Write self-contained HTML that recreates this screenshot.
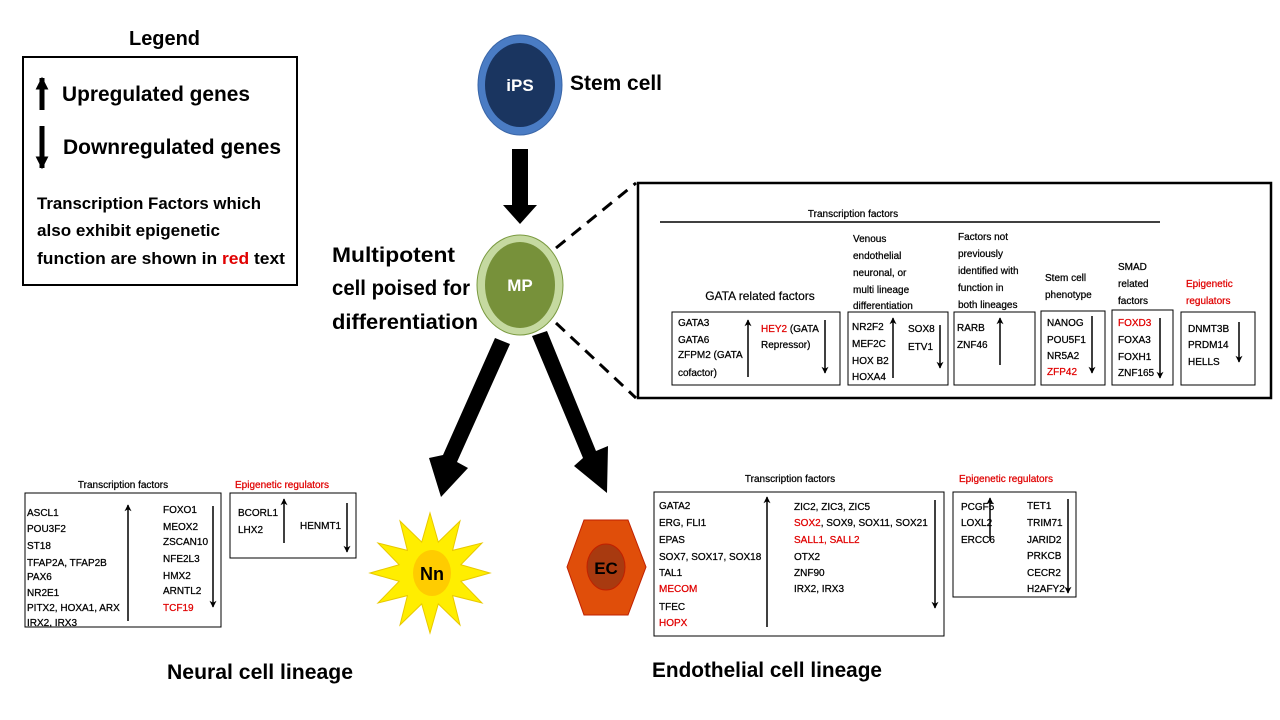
<!DOCTYPE html>
<html><head><meta charset="utf-8"><style>
html,body{margin:0;padding:0;background:#fff;}
svg{display:block;font-family:"Liberation Sans",sans-serif;}
.s{font-size:10px;fill:#000;stroke:#000;stroke-width:0.25;}
.r{fill:#e00000;stroke:#e00000;}
</style></head><body>
<svg width="1280" height="720" viewBox="0 0 1280 720" xmlns="http://www.w3.org/2000/svg">
<defs>
<marker id="ah" viewBox="0 0 10 10" refX="9" refY="5" markerWidth="7" markerHeight="7" markerUnits="userSpaceOnUse" orient="auto"><path d="M0,0 L10,5 L0,10 L3,5 z" fill="#000"/></marker>
<marker id="ahb" viewBox="0 0 10 10" refX="9" refY="5" markerWidth="13" markerHeight="13" markerUnits="userSpaceOnUse" orient="auto"><path d="M0,0 L10,5 L0,10 z" fill="#000"/></marker>
</defs>

<text x="129" y="45" font-size="20" font-weight="bold" textLength="71" lengthAdjust="spacingAndGlyphs">Legend</text>
<rect x="23" y="57" width="274" height="228" fill="#fff" stroke="#000" stroke-width="2"/>
<line x1="42" y1="110" x2="42" y2="78" stroke="#000" stroke-width="5" marker-end="url(#ahb)"/>
<text x="62" y="101" font-size="21" font-weight="bold" textLength="188" lengthAdjust="spacingAndGlyphs">Upregulated genes</text>
<line x1="42" y1="126" x2="42" y2="168" stroke="#000" stroke-width="5" marker-end="url(#ahb)"/>
<text x="63" y="154" font-size="21" font-weight="bold" textLength="218" lengthAdjust="spacingAndGlyphs">Downregulated genes</text>
<text x="37" y="209" font-size="17" font-weight="bold" textLength="224" lengthAdjust="spacingAndGlyphs">Transcription  Factors which</text>
<text x="37" y="236" font-size="17" font-weight="bold" textLength="183" lengthAdjust="spacingAndGlyphs">also exhibit epigenetic</text>
<text x="37" y="264" font-size="17" font-weight="bold" textLength="248" lengthAdjust="spacingAndGlyphs">function are shown in <tspan fill="#e00000">red</tspan> text</text>

<ellipse cx="520" cy="85" rx="42" ry="50" fill="#4a7cc4" stroke="#3a66a8" stroke-width="1"/>
<ellipse cx="520" cy="85" rx="35" ry="42" fill="#1a3560"/>
<text x="520" y="91" font-size="17" font-weight="bold" fill="#fff" text-anchor="middle">iPS</text>
<text x="570" y="90" font-size="21" font-weight="bold" textLength="92" lengthAdjust="spacingAndGlyphs">Stem cell</text>

<polygon points="512,149 528,149 528,205 537,205 520,224 503,205 512,205" fill="#000"/>

<ellipse cx="520" cy="285" rx="43" ry="50" fill="#c5d9a0" stroke="#7a9a40" stroke-width="1"/>
<ellipse cx="520" cy="285" rx="35" ry="43" fill="#77913a"/>
<text x="520" y="291" font-size="17" font-weight="bold" fill="#fff" text-anchor="middle">MP</text>
<text x="332" y="262" font-size="21" font-weight="bold" textLength="123" lengthAdjust="spacingAndGlyphs">Multipotent</text>
<text x="332" y="295" font-size="21" font-weight="bold" textLength="138" lengthAdjust="spacingAndGlyphs">cell poised for</text>
<text x="332" y="329" font-size="21" font-weight="bold" textLength="146" lengthAdjust="spacingAndGlyphs">differentiation</text>

<polygon points="495,338 510,344 457,462 468,468 441,497 429,458 443,455" fill="#000"/>
<polygon points="532,336 547,331 596,451 608,446 607,493 574,466 583,458" fill="#000"/>

<line x1="556" y1="248" x2="636" y2="183" stroke="#000" stroke-width="3" stroke-dasharray="12,8"/>
<line x1="556" y1="323" x2="636" y2="398" stroke="#000" stroke-width="3" stroke-dasharray="12,8"/>

<rect x="638" y="183" width="633" height="215" fill="#fff" stroke="#000" stroke-width="2.5"/>
<text class="s" x="853" y="217" text-anchor="middle">Transcription  factors</text>
<line x1="660" y1="222" x2="1160" y2="222" stroke="#000" stroke-width="1.5"/>
<text x="760" y="300" font-size="12" text-anchor="middle" stroke="#000" stroke-width="0.2">GATA related factors</text>
<g class="s">
<text x="853" y="242">Venous</text><text x="853" y="259">endothelial</text><text x="853" y="276">neuronal, or</text><text x="853" y="293">multi lineage</text><text x="853" y="309">differentiation</text>
<text x="958" y="240">Factors not</text><text x="958" y="257">previously</text><text x="958" y="274">identified with</text><text x="958" y="291">function in</text><text x="958" y="308">both lineages</text>
<text x="1045" y="281">Stem cell</text><text x="1045" y="298">phenotype</text>
<text x="1118" y="270">SMAD</text><text x="1118" y="287">related</text><text x="1118" y="304">factors</text>
<text x="1186" y="287" class="r">Epigenetic</text><text x="1186" y="304" class="r">regulators</text>
</g>
<g fill="#fff" stroke="#000" stroke-width="1">
<rect x="672" y="312" width="168" height="73"/>
<rect x="848" y="312" width="100" height="73"/>
<rect x="954" y="312" width="81" height="73"/>
<rect x="1041" y="311" width="64" height="74"/>
<rect x="1112" y="310" width="61" height="75"/>
<rect x="1181" y="312" width="74" height="73"/>
</g>
<g class="s">
<text x="678" y="326">GATA3</text><text x="678" y="343">GATA6</text><text x="678" y="358">ZFPM2 (GATA</text><text x="678" y="376">cofactor)</text>
<text x="761" y="332"><tspan class="r">HEY2</tspan> (GATA</text><text x="761" y="348">Repressor)</text>
<text x="852" y="330">NR2F2</text><text x="852" y="347">MEF2C</text><text x="852" y="364">HOX B2</text><text x="852" y="380">HOXA4</text>
<text x="908" y="332">SOX8</text><text x="908" y="350">ETV1</text>
<text x="957" y="331">RARB</text><text x="957" y="348">ZNF46</text>
<text x="1047" y="326">NANOG</text><text x="1047" y="343">POU5F1</text><text x="1047" y="359">NR5A2</text><text x="1047" y="375" class="r">ZFP42</text>
<text x="1118" y="326" class="r">FOXD3</text><text x="1118" y="343">FOXA3</text><text x="1118" y="360">FOXH1</text><text x="1118" y="376">ZNF165</text>
<text x="1188" y="332">DNMT3B</text><text x="1188" y="348">PRDM14</text><text x="1188" y="365">HELLS</text>
</g>
<g stroke="#000" stroke-width="1.5">
<line x1="748" y1="377" x2="748" y2="320" marker-end="url(#ah)"/>
<line x1="825" y1="320" x2="825" y2="373" marker-end="url(#ah)"/>
<line x1="893" y1="378" x2="893" y2="318" marker-end="url(#ah)"/>
<line x1="940" y1="325" x2="940" y2="368" marker-end="url(#ah)"/>
<line x1="1000" y1="365" x2="1000" y2="318" marker-end="url(#ah)"/>
<line x1="1092" y1="316" x2="1092" y2="373" marker-end="url(#ah)"/>
<line x1="1160" y1="318" x2="1160" y2="378" marker-end="url(#ah)"/>
<line x1="1239" y1="322" x2="1239" y2="362" marker-end="url(#ah)"/>
</g>

<text class="s" x="123" y="488" text-anchor="middle">Transcription  factors</text>
<rect x="25" y="493" width="196" height="134" fill="#fff" stroke="#000" stroke-width="1"/>
<g class="s">
<text x="27" y="516">ASCL1</text><text x="27" y="532">POU3F2</text><text x="27" y="549">ST18</text><text x="27" y="566">TFAP2A, TFAP2B</text><text x="27" y="580">PAX6</text><text x="27" y="596">NR2E1</text><text x="27" y="611">PITX2, HOXA1, ARX</text><text x="27" y="626">IRX2, IRX3</text>
<text x="163" y="513">FOXO1</text><text x="163" y="530">MEOX2</text><text x="163" y="545">ZSCAN10</text><text x="163" y="562">NFE2L3</text><text x="163" y="579">HMX2</text><text x="163" y="594">ARNTL2</text><text x="163" y="611" class="r">TCF19</text>
</g>
<text class="s r" x="235" y="488">Epigenetic regulators</text>
<rect x="230" y="493" width="126" height="65" fill="#fff" stroke="#000" stroke-width="1"/>
<g class="s"><text x="238" y="516">BCORL1</text><text x="238" y="533">LHX2</text><text x="300" y="529">HENMT1</text></g>
<g stroke="#000" stroke-width="1.5">
<line x1="128" y1="621" x2="128" y2="505" marker-end="url(#ah)"/>
<line x1="213" y1="506" x2="213" y2="607" marker-end="url(#ah)"/>
<line x1="284" y1="543" x2="284" y2="499" marker-end="url(#ah)"/>
<line x1="347" y1="503" x2="347" y2="552" marker-end="url(#ah)"/>
</g>

<polygon points="430,513 438.3,542.1 460,521 452.6,550.4 482,543 460.9,564.7 490,573 460.9,581.3 482,603 452.6,595.6 460,625 438.3,603.9 430,633 421.7,603.9 400,625 407.4,595.6 378,603 399.1,581.3 370,573 399.1,564.7 378,543 407.4,550.4 400,521 421.7,542.1" fill="#ffee00" stroke="#e8c800" stroke-width="1"/>
<ellipse cx="432" cy="573" rx="19" ry="23" fill="#ffcc00"/>
<text x="432" y="580" font-size="18" font-weight="bold" text-anchor="middle">Nn</text>

<polygon points="584,520 628,520 646,567 628,615 584,615 567,567" fill="#e04e0a" stroke="#c02000" stroke-width="1"/>
<ellipse cx="606" cy="567" rx="19" ry="23" fill="#a83a10" stroke="#c02000" stroke-width="1"/>
<text x="606" y="574" font-size="17" font-weight="bold" text-anchor="middle">EC</text>

<text class="s" x="790" y="482" text-anchor="middle">Transcription  factors</text>
<rect x="654" y="492" width="290" height="144" fill="#fff" stroke="#000" stroke-width="1"/>
<g class="s">
<text x="659" y="509">GATA2</text><text x="659" y="526">ERG, FLI1</text><text x="659" y="543">EPAS</text><text x="659" y="560">SOX7, SOX17, SOX18</text><text x="659" y="576">TAL1</text><text x="659" y="592" class="r">MECOM</text><text x="659" y="610">TFEC</text><text x="659" y="626" class="r">HOPX</text>
<text x="794" y="510">ZIC2, ZIC3, ZIC5</text><text x="794" y="526"><tspan class="r">SOX2</tspan>, SOX9, SOX11, SOX21</text><text x="794" y="543" class="r">SALL1, SALL2</text><text x="794" y="560">OTX2</text><text x="794" y="576">ZNF90</text><text x="794" y="592">IRX2, IRX3</text>
</g>
<text class="s r" x="959" y="482">Epigenetic regulators</text>
<rect x="953" y="492" width="123" height="105" fill="#fff" stroke="#000" stroke-width="1"/>
<g class="s">
<text x="961" y="510">PCGF5</text><text x="961" y="526">LOXL2</text><text x="961" y="543">ERCC6</text>
<text x="1027" y="509">TET1</text><text x="1027" y="526">TRIM71</text><text x="1027" y="543">JARID2</text><text x="1027" y="559">PRKCB</text><text x="1027" y="576">CECR2</text><text x="1027" y="592">H2AFY2</text>
</g>
<g stroke="#000" stroke-width="1.5">
<line x1="767" y1="627" x2="767" y2="497" marker-end="url(#ah)"/>
<line x1="935" y1="500" x2="935" y2="608" marker-end="url(#ah)"/>
<line x1="990" y1="541" x2="990" y2="498" marker-end="url(#ah)"/>
<line x1="1068" y1="499" x2="1068" y2="593" marker-end="url(#ah)"/>
</g>

<text x="167" y="679" font-size="21" font-weight="bold" textLength="186" lengthAdjust="spacingAndGlyphs">Neural cell lineage</text>
<text x="652" y="677" font-size="21" font-weight="bold" textLength="230" lengthAdjust="spacingAndGlyphs">Endothelial cell lineage</text>
</svg>
</body></html>
